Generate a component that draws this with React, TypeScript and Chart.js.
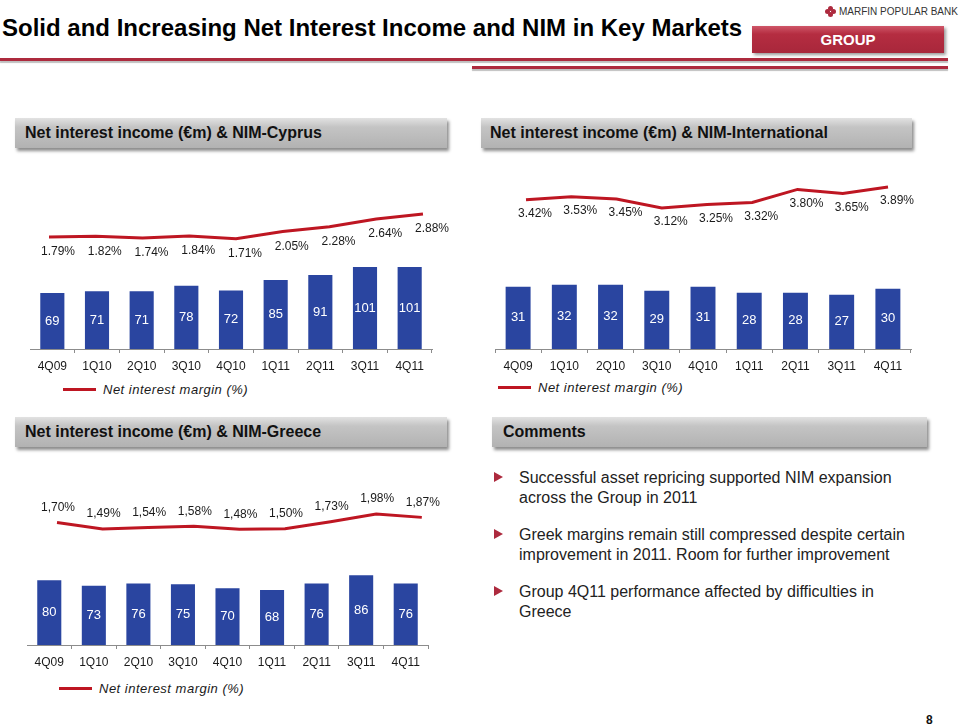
import React, { useEffect, useRef } from 'react';
import { Chart, registerables } from 'chart.js';

Chart.register(...registerables);

// ---------- data ----------
const quarters = ['4Q09', '1Q10', '2Q10', '3Q10', '4Q10', '1Q11', '2Q11', '3Q11', '4Q11'];

const cyprusIncome = [69, 71, 71, 78, 72, 85, 91, 101, 101];
const cyprusNim = [1.79, 1.82, 1.74, 1.84, 1.71, 2.05, 2.28, 2.64, 2.88];

const intlIncome = [31, 32, 32, 29, 31, 28, 28, 27, 30];
const intlNim = [3.42, 3.53, 3.45, 3.12, 3.25, 3.32, 3.8, 3.65, 3.89];

const greeceIncome = [80, 73, 76, 75, 70, 68, 76, 86, 76];
const greeceNim = [1.7, 1.49, 1.54, 1.58, 1.48, 1.5, 1.73, 1.98, 1.87];

const legendLabel = 'Net interest margin (%)';

const comments = [
  ['Successful asset repricing supported NIM expansion', 'across the Group in 2011'],
  ['Greek margins remain still compressed despite certain', 'improvement in 2011. Room for further improvement'],
  ['Group 4Q11 performance affected by difficulties in', 'Greece'],
];

// ---------- styles ----------
const FONT = '"Liberation Sans", Arial, Helvetica, sans-serif';
const BAR_COLOR = '#2a45a0';
const LINE_COLOR = '#be1622';
const BRAND_RED = '#ad2a3e';
const EXTRA_RIGHT = 26;

const valueLabels = {
  id: 'valueLabels',
  afterDatasetsDraw(chart: any, _args: any, opts: any) {
    const ctx = chart.ctx;
    const barMeta = chart.getDatasetMeta(0);
    const lineMeta = chart.getDatasetMeta(1);
    ctx.save();
    ctx.textAlign = 'center';
    ctx.textBaseline = 'middle';
    ctx.font = `13px ${FONT}`;
    ctx.fillStyle = '#ffffff';
    barMeta.data.forEach((el: any, i: number) => {
      const p = el.getProps(['x', 'y', 'base'], true);
      ctx.fillText(String(chart.data.datasets[0].data[i]), p.x, (p.y + p.base) / 2);
    });
    ctx.font = `12px ${FONT}`;
    ctx.fillStyle = '#1a1a1a';
    lineMeta.data.forEach((el: any, i: number) => {
      const v = chart.data.datasets[1].data[i].y as number;
      const txt = v.toFixed(2).replace('.', opts.sep) + '%';
      ctx.fillText(txt, el.x + opts.dx, el.y + opts.dy);
    });
    ctx.restore();
  },
};

type ChartProps = {
  income: number[];
  nim: number[];
  left: number;
  top: number;
  width: number;
  height: number;
  barMax: number;
  lineMin: number;
  lineMax: number;
  x2Min: number;
  x2Max: number;
  sep: string;
  dx: number;
  dy: number;
};

function NimChart(p: ChartProps) {
  const ref = useRef<HTMLCanvasElement>(null);
  const cw = p.width + EXTRA_RIGHT;
  useEffect(() => {
    if (!ref.current) return;
    const chart = new Chart(ref.current, {
      type: 'bar',
      data: {
        labels: quarters,
        datasets: [
          {
            type: 'bar',
            data: p.income,
            backgroundColor: BAR_COLOR,
            barPercentage: 0.54,
            categoryPercentage: 1,
            grouped: false,
            xAxisID: 'x',
            yAxisID: 'y',
            order: 2,
          } as any,
          {
            type: 'line',
            data: p.nim.map((v, i) => ({ x: i, y: v })),
            borderColor: LINE_COLOR,
            borderWidth: 3,
            pointRadius: 0,
            tension: 0,
            fill: false,
            xAxisID: 'x2',
            yAxisID: 'y2',
            order: 1,
          } as any,
        ],
      },
      options: {
        animation: false,
        responsive: false,
        layout: { padding: { left: 0, top: 0, bottom: 0, right: EXTRA_RIGHT } },
        plugins: {
          legend: { display: false },
          tooltip: { enabled: false },
          valueLabels: { sep: p.sep, dx: p.dx, dy: p.dy },
        } as any,
        scales: {
          x: {
            type: 'category',
            offset: true,
            grid: {
              display: true,
              drawOnChartArea: false,
              drawTicks: true,
              tickLength: 4,
              color: '#8c8c8c',
              offset: true,
            },
            border: { display: true, color: '#8c8c8c', width: 1 },
            ticks: {
              font: { size: 12, family: FONT },
              color: '#1a1a1a',
              padding: 6,
              maxRotation: 0,
              autoSkip: false,
            },
            afterFit: (s: any) => {
              s.height = 30;
            },
          },
          x2: {
            type: 'linear',
            display: false,
            offset: false,
            bounds: 'data',
            min: p.x2Min,
            max: p.x2Max,
            grid: { offset: false },
          },
          y: { display: false, min: 0, max: p.barMax },
          y2: { display: false, min: p.lineMin, max: p.lineMax },
        } as any,
      },
      plugins: [valueLabels as any],
    });
    return () => chart.destroy();
  }, []);
  return (
    <canvas
      ref={ref}
      width={cw}
      height={p.height}
      style={{ position: 'absolute', left: p.left, top: p.top, width: cw, height: p.height }}
    />
  );
}

function PanelHeader({ left, top, width, text, pad }: { left: number; top: number; width: number; text: string; pad: number }) {
  return (
    <div
      style={{
        position: 'absolute',
        left,
        top,
        width,
        height: 30,
        background: 'linear-gradient(to bottom, #e2e2e2 0%, #c4c4c4 30%, #b2b2b2 100%)',
        boxShadow: '2px 3px 3px rgba(0,0,0,0.45)',
        boxSizing: 'border-box',
        paddingLeft: pad,
        font: `bold 16px ${FONT}`,
        lineHeight: '30px',
        color: '#111',
        whiteSpace: 'nowrap',
      }}
    >
      {text}
    </div>
  );
}

function Legend({ left, top }: { left: number; top: number }) {
  return (
    <div style={{ position: 'absolute', left, top, height: 16, whiteSpace: 'nowrap' }}>
      <div style={{ position: 'absolute', left: 0, top: 6, width: 33, height: 3, background: LINE_COLOR }} />
      <div
        style={{
          position: 'absolute',
          left: 40,
          top: 0,
          font: `italic 13px ${FONT}`,
          lineHeight: '16px',
          letterSpacing: '0.5px',
          color: '#1a1a1a',
        }}
      >
        {legendLabel}
      </div>
    </div>
  );
}

export default function App() {
  const bulletTops = [468, 525, 582];
  return (
    <div
      style={{
        position: 'absolute',
        left: 0,
        top: 0,
        width: 960,
        height: 727,
        background: '#fff',
        overflow: 'hidden',
        fontFamily: FONT,
      }}
    >
      {/* Title */}
      <div
        style={{
          position: 'absolute',
          left: 2,
          top: 13,
          font: `bold 24px ${FONT}`,
          lineHeight: '30px',
          color: '#000',
          whiteSpace: 'nowrap',
        }}
      >
        Solid and Increasing Net Interest Income and NIM in Key Markets
      </div>

      {/* Logo */}
      <div style={{ position: 'absolute', left: 825, top: 6, width: 11, height: 11 }}>
        <div style={{ position: 'absolute', left: 3, top: 0, width: 5, height: 5, borderRadius: 3, background: BRAND_RED }} />
        <div style={{ position: 'absolute', left: 3, top: 6, width: 5, height: 5, borderRadius: 3, background: BRAND_RED }} />
        <div style={{ position: 'absolute', left: 0, top: 3, width: 5, height: 5, borderRadius: 3, background: BRAND_RED }} />
        <div style={{ position: 'absolute', left: 6, top: 3, width: 5, height: 5, borderRadius: 3, background: BRAND_RED }} />
      </div>
      <div
        style={{
          position: 'absolute',
          left: 839,
          top: 5,
          font: `10px ${FONT}`,
          lineHeight: '14px',
          color: '#333',
          whiteSpace: 'nowrap',
        }}
      >
        MARFIN POPULAR BANK
      </div>

      {/* GROUP box */}
      <div
        style={{
          position: 'absolute',
          left: 752,
          top: 26,
          width: 192,
          height: 27,
          background: 'linear-gradient(to bottom, #cf5668 0%, #b52d41 30%, #a8273b 100%)',
          boxShadow: '2px 2px 3px rgba(0,0,0,0.4)',
          color: '#fff',
          font: `bold 15px ${FONT}`,
          lineHeight: '27px',
          textAlign: 'center',
        }}
      >
        GROUP
      </div>

      {/* Red rules */}
      <div style={{ position: 'absolute', left: 0, top: 58, width: 948, height: 3, background: BRAND_RED, boxShadow: '0 2px 1px rgba(0,0,0,0.25)' }} />
      <div style={{ position: 'absolute', left: 472, top: 66, width: 476, height: 3, background: BRAND_RED, boxShadow: '0 2px 1px rgba(0,0,0,0.25)' }} />

      {/* Panel headers */}
      <PanelHeader left={15} top={118} width={432} pad={10} text="Net interest income (€m) & NIM-Cyprus" />
      <PanelHeader left={481} top={118} width={431} pad={9} text="Net interest income (€m) & NIM-International" />
      <PanelHeader left={15} top={417} width={432} pad={10} text="Net interest income (€m) & NIM-Greece" />
      <PanelHeader left={492} top={417} width={435} pad={11} text="Comments" />

      {/* Charts */}
      <NimChart
        income={cyprusIncome}
        nim={cyprusNim}
        left={30}
        top={150}
        width={402}
        height={229}
        barMax={245}
        lineMin={-3.518}
        lineMax={5.913}
        x2Min={-0.406}
        x2Max={8.193}
        sep="."
        dx={9}
        dy={15}
      />
      <NimChart
        income={intlIncome}
        nim={intlNim}
        left={495}
        top={150}
        width={416}
        height={229}
        barMax={99}
        lineMin={-2.045}
        lineMax={5.244}
        x2Min={-0.685}
        x2Max={8.508}
        sep="."
        dx={9}
        dy={14}
      />
      <NimChart
        income={greeceIncome}
        nim={greeceNim}
        left={27}
        top={450}
        width={401}
        height={225}
        barMax={240.7}
        lineMin={-2.301}
        lineMax={4.072}
        x2Min={-0.658}
        x2Max={8.136}
        sep=","
        dx={1}
        dy={-15}
      />

      {/* Legends */}
      <Legend left={63} top={382} />
      <Legend left={498} top={380} />
      <Legend left={59} top={681} />

      {/* Comments */}
      {comments.map((lines, i) => (
        <React.Fragment key={i}>
          <div
            style={{
              position: 'absolute',
              left: 494,
              top: bulletTops[i] + 4,
              width: 0,
              height: 0,
              borderTop: '5px solid transparent',
              borderBottom: '5px solid transparent',
              borderLeft: `9px solid ${BRAND_RED}`,
            }}
          />
          <div
            style={{
              position: 'absolute',
              left: 519,
              top: bulletTops[i],
              font: `16px ${FONT}`,
              lineHeight: '20px',
              color: '#222',
              whiteSpace: 'nowrap',
            }}
          >
            {lines.map((l, j) => (
              <div key={j}>{l}</div>
            ))}
          </div>
        </React.Fragment>
      ))}

      {/* Page number */}
      <div
        style={{
          position: 'absolute',
          left: 926,
          top: 713,
          font: `bold 12px ${FONT}`,
          lineHeight: '14px',
          color: '#111',
        }}
      >
        8
      </div>
    </div>
  );
}
